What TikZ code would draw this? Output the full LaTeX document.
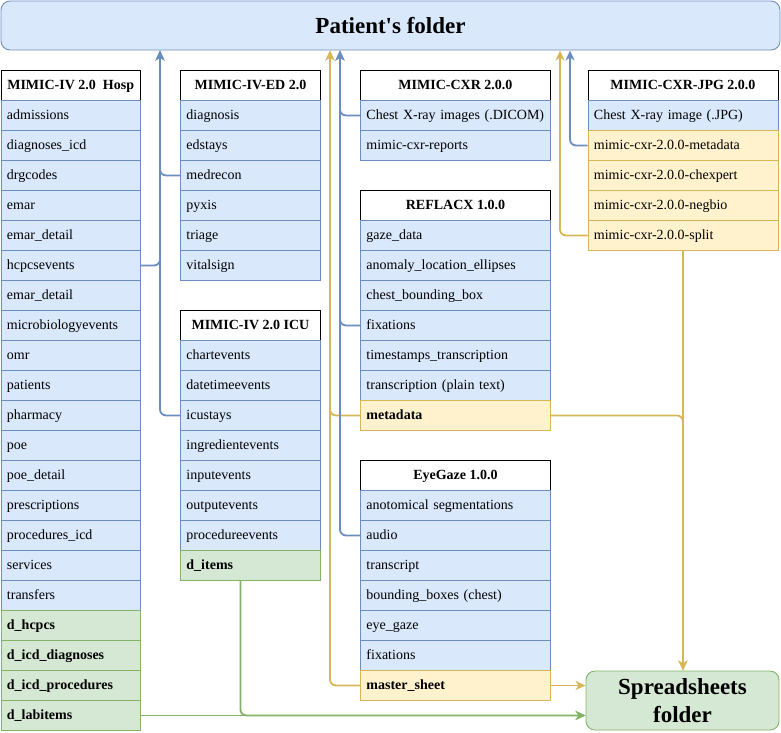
\documentclass[tikz,border=0pt]{standalone}
\usepackage{fontspec}
\setmainfont{Liberation Serif}
\newfontfamily\rawserif{Liberation Serif}
\usetikzlibrary{arrows.meta}
\definecolor{bF}{HTML}{DAE8FC}\definecolor{bL}{HTML}{6C8EBF}
\definecolor{yF}{HTML}{FFF2CC}\definecolor{yL}{HTML}{D6B656}
\definecolor{gF}{HTML}{D5E8D4}\definecolor{gL}{HTML}{82B366}
\newcommand\dbtable[6]{%
  \pgfmathsetmacro\tw{#4-12}%
  \node[hdr, minimum width=#4pt] (#1) at (#2,#3) {#5};
  \foreach \s/\t [count=\i] in {#6} {
    \node[row=\s, text width=\tw pt] (#1-\i) at (#2,#3+30*\i) {\t};
  }
}
\begin{document}
\begin{tikzpicture}[x=1pt,y=-1pt,
  cell/.style={rectangle, anchor=north west, minimum height=30pt, inner xsep=6pt, inner ysep=0pt,
    text height=12pt, text depth=3pt,
    font=\fontsize{14}{16}\selectfont, align=left, line width=0.9pt},
  hdr/.style={cell, draw=black, fill=white, font=\fontsize{14}{16}\selectfont\bfseries, align=center},
  row/.style={cell, draw=#1L, fill=#1F},
  folder/.style={rectangle, rounded corners=9pt, line width=0.9pt, font=\fontsize{23}{27.5}\selectfont\bfseries, align=center},
  link/.style={line width=1.8pt, rounded corners=6pt, -{Stealth[length=10pt,width=9pt,inset=3pt]}},
  blink/.style={link, draw=bL},
  ylink/.style={link, draw=yL},
  glink/.style={link, draw=gL}
]
\useasboundingbox (0,0) rectangle (781,732);
% folders
\node[folder, draw=bL, fill=bF, minimum width=779pt, minimum height=49pt] (pf) at (390.5,25.5) {Patient{\rawserif\bfseries'}s folder};
\node[folder, draw=gL, fill=gF, minimum width=193pt, minimum height=59pt] (sf) at (682.5,700.5) {Spreadsheets\\folder};
% tables
\dbtable{hosp}{0.5}{70}{139.5}{MIMIC-IV 2.0\ \ Hosp}{b/admissions, b/diagnoses\_icd, b/drgcodes, b/emar, b/emar\_detail, b/hcpcsevents, b/emar\_detail, b/microbiologyevents, b/omr, b/patients, b/pharmacy, b/poe, b/poe\_detail, b/prescriptions, b/procedures\_icd, b/services, b/transfers, g/\textbf{d\_hcpcs}, g/\textbf{d\_icd\_diagnoses}, g/\textbf{d\_icd\_procedures}, g/\textbf{d\_labitems}}
\dbtable{ed}{180}{70}{140}{MIMIC-IV-ED 2.0}{b/diagnosis, b/edstays, b/medrecon, b/pyxis, b/triage, b/vitalsign}
\dbtable{icu}{180}{310}{140}{MIMIC-IV 2.0 ICU}{b/chartevents, b/datetimeevents, b/icustays, b/ingredientevents, b/inputevents, b/outputevents, b/procedureevents, g/\textbf{d\_items}}
\dbtable{cxr}{360}{70}{190}{MIMIC-CXR 2.0.0}{b/Chest X-ray images (.DICOM), b/mimic-cxr-reports}
\dbtable{ref}{360}{190}{190}{REFLACX 1.0.0}{b/gaze\_data, b/anomaly\_location\_ellipses, b/chest\_bounding\_box, b/fixations, b/timestamps\_transcription, b/transcription (plain text), y/\textbf{metadata}}
\dbtable{eye}{360}{460}{190}{EyeGaze 1.0.0}{b/anotomical segmentations, b/audio, b/transcript, b/bounding\_boxes (chest), b/eye\_gaze, b/fixations, y/\textbf{master\_sheet}}
\dbtable{jpg}{587.5}{70}{190}{MIMIC-CXR-JPG 2.0.0}{b/Chest X-ray image (.JPG), y/mimic-cxr-2.0.0-metadata, y/mimic-cxr-2.0.0-chexpert, y/mimic-cxr-2.0.0-negbio, y/mimic-cxr-2.0.0-split}
% arrow end points on the patient's folder
\coordinate (pA) at (160,50.5);
\coordinate (pB) at (330,50.5);
\coordinate (pC) at (340,50.5);
\coordinate (pD) at (560,50.5);
\coordinate (pE) at (570,50.5);
% connectors to patient's folder
\draw[blink] (icu-3.west) -| (pA);
\draw[blink] (hosp-6.east) -| (pA);
\draw[blink] (ed-3.west) -| (pA);
\draw[ylink] (eye-7.west) -| (pB);
\draw[ylink] (ref-7.west) -| (pB);
\draw[blink] (eye-2.west) -| (pC);
\draw[blink] (ref-4.west) -| (pC);
\draw[blink] (cxr-1.west) -| (pC);
\draw[ylink] (jpg-5.west) -| (pD);
\draw[blink] (jpg-2.west) -| (pE);
% connectors to spreadsheets folder
\draw[ylink] (jpg-5.south) -- (jpg-5.south |- sf.north);
\draw[ylink] (ref-7.east) -| (jpg-5.south |- sf.north);
\draw[ylink] (eye-7.east) -- (eye-7.east -| sf.west);
\draw[glink] (hosp-21.east) -- (hosp-21.east -| sf.west);
\draw[glink] ([xshift=-10pt]icu-8.south) |- (hosp-21.east -| sf.west);
\end{tikzpicture}
\end{document}
